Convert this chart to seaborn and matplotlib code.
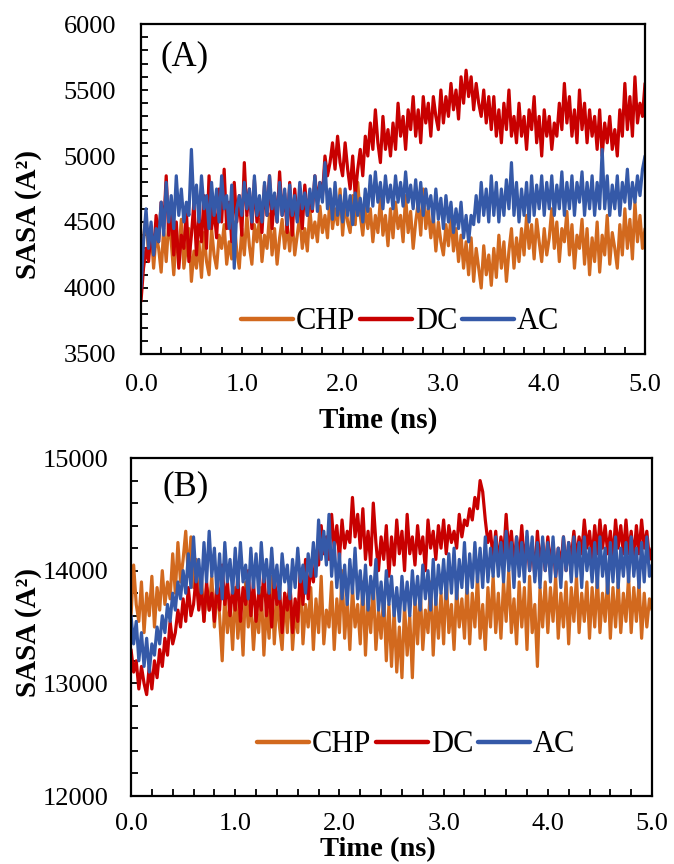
import numpy as np
import pandas as pd
import matplotlib
matplotlib.use("Agg")
import matplotlib.pyplot as plt
from matplotlib.ticker import MultipleLocator, FormatStrFormatter
import seaborn as sns

# ---------------- data ----------------
time_ns = [round(i * 0.025, 3) for i in range(201)]

chp_a = [4200, 4380, 4550, 4250, 4450, 4150, 4400, 4300, 4120, 4450,
         4200, 4500, 4350, 4100, 4380, 4250, 4520, 4150, 4300, 4450,
         4050, 4280, 4150, 4350, 4080, 4420, 4200, 4100, 4450, 4250,
         4150, 4400, 4300, 4480, 4180, 4350, 4220, 4500, 4280, 4150,
         4450, 4250, 4550, 4320, 4180, 4480, 4350, 4520, 4200, 4400,
         4300, 4560, 4250, 4450, 4180, 4380, 4520, 4300, 4480, 4280,
         4520, 4250, 4400, 4550, 4300, 4450, 4280, 4600, 4380, 4500,
         4350, 4620, 4420, 4550, 4380, 4700, 4450, 4600, 4480, 4750,
         4400, 4650, 4500, 4420, 4700, 4480, 4800, 4550, 4400, 4620,
         4450, 4600, 4350, 4550, 4420, 4680, 4400, 4550, 4320, 4600,
         4380, 4650, 4450, 4550, 4350, 4700, 4420, 4580, 4300, 4500,
         4650, 4400, 4750, 4450, 4600, 4380, 4550, 4280, 4500, 4350,
         4250, 4480, 4320, 4550, 4280, 4450, 4200, 4400, 4150, 4350,
         4100, 4380, 4050, 4300, 4150, 4000, 4320, 4100, 4250, 4020,
         4300, 4080, 4400, 4150, 4350, 4050, 4280, 4450, 4150, 4380,
         4200, 4450, 4250, 4550, 4300, 4480, 4220, 4520, 4350, 4200,
         4450, 4250, 4380, 4600, 4300, 4500, 4200, 4450, 4350, 4580,
         4250, 4480, 4150, 4400, 4300, 4520, 4180, 4450, 4100, 4380,
         4200, 4500, 4120, 4400, 4250, 4550, 4180, 4420, 4300, 4150,
         4480, 4250, 4600, 4300, 4520, 4220, 4650, 4350, 4550, 4300,
         4450]
dc_a = [3900, 4150, 4300, 4200, 4450, 4250, 4550, 4350, 4650, 4450,
        4850, 4400, 4600, 4250, 4500, 4150, 4400, 4300, 4580, 4200,
        4400, 4650, 4250, 4550, 4350, 4700, 4300, 4850, 4450, 4600,
        4380, 4750, 4500, 4900, 4450, 4650, 4350, 4800, 4500, 4700,
        4400, 4950, 4550, 4750, 4450, 4820, 4500, 4680, 4420, 4780,
        4550, 4850, 4450, 4700, 4500, 4880, 4550, 4720, 4420, 4800,
        4400, 4750, 4520, 4650, 4450, 4780, 4550, 4700, 4580, 4850,
        4650, 4800, 4700, 5000, 4850, 4950, 5100, 4900, 5150, 4950,
        4850, 5100, 4900, 4750, 5000, 4700, 4900, 5050, 4850, 5150,
        5000, 5250, 5050, 5350, 5100, 4950, 5300, 5050, 5200, 5000,
        5250, 5050, 5400, 5150, 5300, 5050, 5350, 5200, 5450, 5150,
        5350, 5100, 5450, 5250, 5400, 5150, 5450, 5300, 5200, 5500,
        5250, 5450, 5300, 5550, 5350, 5500, 5280, 5600, 5400, 5650,
        5450, 5600, 5350, 5550, 5400, 5300, 5500, 5250, 5450, 5200,
        5450, 5150, 5350, 5100, 5400, 5200, 5500, 5150, 5300, 5100,
        5400, 5150, 5300, 5050, 5350, 5200, 5450, 5100, 5300, 5000,
        5350, 5150, 5300, 5050, 5250, 5150, 5400, 5200, 5550, 5250,
        5450, 5150, 5350, 5100, 5500, 5200, 5400, 5100, 5350, 5150,
        5300, 5050, 5350, 5000, 5250, 5100, 5300, 5050, 5200, 5000,
        5350, 5150, 5550, 5200, 5450, 5150, 5600, 5250, 5400, 5300,
        5550]
ac_a = [4000, 4350, 4600, 4300, 4500, 4250, 4450, 4350, 4650, 4400,
        4800, 4500, 4700, 4450, 4850, 4550, 4750, 4500, 4650, 4550,
        5050, 4600, 4780, 4500, 4850, 4600, 4700, 4450, 4800, 4550,
        4750, 4500, 4850, 4600, 4700, 4450, 4780, 4150, 4600, 4700,
        4550, 4800, 4600, 4750, 4500, 4850, 4550, 4700, 4500, 4800,
        4550, 4850, 4600, 4720, 4500, 4800, 4550, 4750, 4480, 4780,
        4550, 4700, 4500, 4800, 4600, 4720, 4550, 4750, 4600, 4850,
        4580, 4800, 4650, 4950, 4600, 4750, 4520, 4800, 4550, 4700,
        4500, 4750, 4550, 4700, 4480, 4720, 4550, 4680, 4500, 4750,
        4580, 4850, 4620, 4880, 4650, 4800, 4600, 4850, 4650, 4780,
        4600, 4850, 4650, 4800, 4620, 4880, 4650, 4780, 4600, 4820,
        4580, 4800, 4550, 4750, 4600, 4700, 4500, 4750, 4520, 4680,
        4450, 4700, 4500, 4650, 4420, 4600, 4450, 4650, 4380, 4550,
        4350, 4550, 4480, 4700, 4500, 4800, 4550, 4750, 4500, 4850,
        4550, 4800, 4500, 4750, 4550, 4820, 4600, 4950, 4550, 4800,
        4500, 4750, 4550, 4800, 4500, 4850, 4550, 4780, 4600, 4850,
        4550, 4800, 4600, 4850, 4550, 4780, 4600, 4880, 4550, 4800,
        4600, 4850, 4550, 4800, 4650, 4880, 4550, 4800, 4600, 4850,
        4550, 4800, 4600, 5050, 4600, 4850, 4550, 4780, 4600, 4850,
        4550, 4800, 4650, 4900, 4600, 4800, 4650, 4850, 4700, 4900,
        5000]

chp_b = [13600, 14050, 13700, 13550, 13900, 13450, 13800, 13600, 13950, 13500,
         13850, 13650, 14000, 13700, 13900, 13750, 14150, 13800, 14250, 13900,
         14100, 14350, 13950, 14300, 13850, 14100, 13700, 13950, 13550, 13850,
         13650, 13950, 13500, 13850, 13600, 13200, 13800, 13450, 13700, 13300,
         13850, 13400, 13700, 13250, 13900, 13500, 13750, 13300, 13650, 13450,
         13850, 13250, 13700, 13400, 13950, 13350, 13750, 13500, 13300, 13800,
         13450, 13900, 13300, 13650, 13450, 14000, 13350, 13700, 13500, 13850,
         13300, 13750, 13450, 13950, 13350, 13650, 13500, 13900, 13300, 13750,
         13450, 14000, 13400, 13750, 13300, 13850, 13500, 13700, 13350, 13900,
         13250, 13750, 13450, 13900, 13300, 13650, 13400, 13800, 13200, 13700,
         13150, 13650, 13100, 13500, 13050, 13700, 13250, 13600, 13050, 13750,
         13350, 13850, 13300, 13650, 13450, 13900, 13250, 13750, 13400, 13800,
         13350, 13950, 13450, 13700, 13300, 13850, 13500, 13750, 13400, 13900,
         13350, 13800, 13500, 13950, 13400, 13700, 13300, 13850, 13500, 13950,
         13450, 13800, 13400, 13900, 13550, 14000, 13450, 13750, 13350, 13900,
         13500, 13850, 13300, 13950, 13450, 13700, 13150, 13850, 13500, 13900,
         13450, 13850, 13550, 13950, 13400, 13800, 13500, 13900, 13350, 13850,
         13550, 13950, 13450, 13800, 13550, 13900, 13400, 13850, 13500, 13950,
         13450, 13800, 13550, 13950, 13400, 13850, 13500, 13900, 13450, 13800,
         13550, 13950, 13450, 13850, 13550, 13900, 13400, 13800, 13500, 13750,
         13650]
dc_b = [13300, 13100, 13200, 12950, 13150, 13000, 12900, 13150, 12950, 13200,
        13050, 13300, 13150, 13400, 13250, 13550, 13350, 13450, 13650, 13500,
        13750, 13550, 13850, 13600, 13700, 13950, 13650, 13850, 13550, 13900,
        13650, 13800, 13550, 13900, 13650, 14050, 13700, 13900, 13600, 13850,
        13650, 13950, 13550, 13850, 13700, 14000, 13600, 13900, 13550, 13800,
        13650, 14000, 13600, 13850, 13500, 13950, 13700, 13850, 13450, 13800,
        13650, 13900, 13450, 13750, 13550, 14000, 13700, 14100, 13750, 14050,
        13900, 14150, 14050, 14400, 14150, 14300, 14100, 14500, 14200, 14400,
        14100, 14450, 14200, 14350, 14250, 14650, 14300, 14500, 14200, 14550,
        14100, 14350, 14050, 14600, 14250, 14000, 14300, 14100, 14400, 13950,
        14300, 14050, 14450, 14150, 14350, 14000, 14500, 14150, 14300, 14050,
        14400, 14150, 14300, 14000, 14450, 14200, 14350, 14100, 14400, 14200,
        14450, 14150, 14400, 14250, 14350, 14200, 14500, 14300, 14450, 14400,
        14550, 14450, 14650, 14550, 14800, 14700, 14450, 14250, 14350, 14100,
        14350, 14050, 14300, 14100, 14500, 14150, 14350, 14050, 14300, 14100,
        14400, 14050, 14300, 14000, 14250, 13950, 14350, 14050, 14250, 14000,
        14300, 14050, 14250, 13950, 14200, 14050, 14300, 14000, 14250, 14100,
        14350, 14100, 14300, 14150, 14450, 14200, 14350, 14100, 14400, 14150,
        14450, 14200, 14400, 14150, 14350, 14100, 14450, 14200, 14400, 14150,
        14450, 14150, 14350, 14100, 14400, 14150, 14450, 14200, 14350, 14100,
        14200]
ac_b = [13600, 13350, 13550, 13200, 13450, 13150, 13400, 13100, 13350, 13250,
        13500, 13350, 13600, 13450, 13700, 13550, 13800, 13650, 13900, 13750,
        14000, 13800, 14150, 13850, 14300, 13900, 14100, 13800, 14250, 13900,
        14350, 13950, 14200, 13800, 14150, 13750, 14250, 13900, 14100, 13800,
        14200, 13850, 14250, 13900, 14050, 13750, 14200, 13850, 14150, 13800,
        14250, 13900, 14100, 13800, 14200, 13850, 14050, 13750, 14150, 13900,
        14050, 13750, 14100, 13850, 14200, 13900, 14050, 13800, 14150, 13950,
        14250, 13950, 14450, 14100, 14350, 14050, 14500, 13950, 14250, 13850,
        14150, 13750, 14050, 13700, 14100, 13800, 14200, 13750, 14000, 13700,
        14050, 13650, 13950, 13750, 14100, 13650, 13900, 13600, 14000, 13700,
        13950, 13600, 13850, 13550, 13950, 13650, 13900, 13600, 14000, 13700,
        13950, 13650, 14050, 13750, 14000, 13650, 14100, 13700, 14050, 13800,
        14100, 13750, 14150, 13800, 14200, 13750, 14100, 13850, 14250, 13800,
        14150, 13850, 14250, 13900, 14200, 13850, 14300, 13900, 14200, 13950,
        14300, 13950, 14250, 13900, 14350, 14000, 14250, 13850, 14300, 13950,
        14250, 13900, 14350, 14000, 14300, 13900, 14250, 13850, 14300, 14000,
        14250, 13900, 14300, 13950, 14200, 13850, 14300, 14000, 14250, 13900,
        14300, 13950, 14250, 13850, 14300, 14000, 14200, 13900, 14250, 13850,
        14300, 13950, 14200, 13800, 14250, 13900, 14300, 13850, 14200, 13950,
        14250, 13900, 14300, 13950, 14200, 13850, 14250, 13900, 14300, 13950,
        14050]

series_names = ["CHP", "DC", "AC"]
colors = {"CHP": "#D2691E", "DC": "#C80000", "AC": "#3559A8"}

# ---------------- style ----------------
sns.set_style("ticks")
plt.rcParams["font.family"] = ["Liberation Serif", "DejaVu Serif"]
plt.rcParams["text.color"] = "black"
plt.rcParams["axes.labelcolor"] = "black"
plt.rcParams["xtick.color"] = "black"
plt.rcParams["ytick.color"] = "black"
plt.rcParams["xtick.labelcolor"] = "black"
plt.rcParams["ytick.labelcolor"] = "black"


def long_df(t, a, b, c):
    return pd.DataFrame({
        "Time": list(t) * 3,
        "SASA": list(a) + list(b) + list(c),
        "System": ["CHP"] * len(a) + ["DC"] * len(b) + ["AC"] * len(c),
    })


df_a = long_df(time_ns, chp_a, dc_a, ac_a)
df_b = long_df(time_ns, chp_b, dc_b, ac_b)

fig = plt.figure(figsize=(6.74, 8.64), dpi=100)
ax_a = fig.add_axes([0.2092, 0.5903, 0.7478, 0.3819])
ax_b = fig.add_axes([0.1944, 0.0787, 0.7730, 0.3912])

panels = [
    dict(ax=ax_a, df=df_a, ylim=(3500, 6000), ymaj=500, ymin=100, tag="(A)",
         tagpos=(0.038, 0.90), legpos=(0.514, 0.097), ylab=(-0.196, 0.424),
         xlab=(0.47, -0.16), ypad=18, xpad=14.5, xlabsize=21),
    dict(ax=ax_b, df=df_b, ylim=(12000, 15000), ymaj=1000, ymin=200, tag="(B)",
         tagpos=(0.06, 0.914), legpos=(0.547, 0.151), ylab=(-0.171, 0.485),
         xlab=(0.474, -0.121), ypad=16.5, xpad=12.5, xlabsize=20.5),
]

for p in panels:
    ax = p["ax"]
    sns.lineplot(data=p["df"], x="Time", y="SASA", hue="System",
                 hue_order=series_names, palette=colors, estimator=None,
                 linewidth=2.3, ax=ax, legend=True)
    ax.set_xlim(0, 5)
    ax.set_ylim(*p["ylim"])
    ax.xaxis.set_major_locator(MultipleLocator(1.0))
    ax.xaxis.set_minor_locator(MultipleLocator(0.2))
    ax.xaxis.set_major_formatter(FormatStrFormatter("%.1f"))
    ax.yaxis.set_major_locator(MultipleLocator(p["ymaj"]))
    ax.yaxis.set_minor_locator(MultipleLocator(p["ymin"]))
    ax.tick_params(axis="both", which="both", direction="in",
                   length=5, width=1.3, color="black")
    ax.tick_params(axis="x", which="major", labelsize=19, pad=p["xpad"])
    ax.tick_params(axis="y", which="major", labelsize=19, pad=p["ypad"])
    for sp in ax.spines.values():
        sp.set_visible(True)
        sp.set_linewidth(1.6)
        sp.set_color("black")
    ax.set_xlabel("Time (ns)", fontsize=p["xlabsize"], fontweight="bold")
    ax.set_ylabel("SASA (A²)", fontsize=21, fontweight="bold")
    ax.yaxis.set_label_coords(*p["ylab"])
    ax.xaxis.set_label_coords(*p["xlab"])
    ax.text(p["tagpos"][0], p["tagpos"][1], p["tag"], transform=ax.transAxes,
            fontsize=25, va="center", ha="left")
    handles, labels = ax.get_legend_handles_labels()
    leg = ax.legend(handles, labels, loc="center", bbox_to_anchor=p["legpos"],
                    ncol=3, frameon=False, fontsize=22, handlelength=1.7,
                    handletextpad=0.1, columnspacing=0.15, borderpad=0.1)
    for h in leg.get_lines():
        h.set_linewidth(3.2)

fig.savefig("out.png", dpi=100)
